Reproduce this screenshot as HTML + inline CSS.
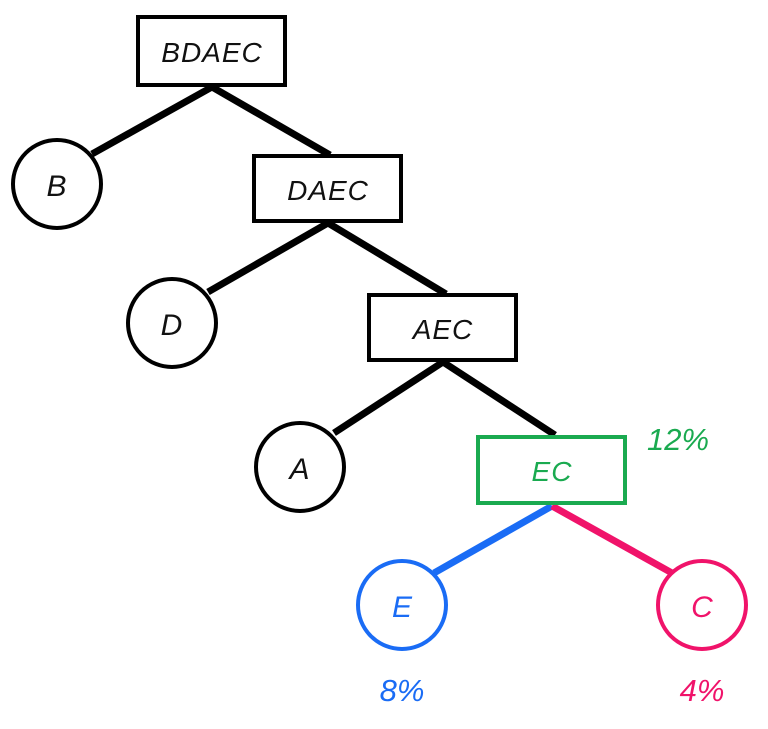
<!DOCTYPE html>
<html><head><style>body{margin:0;background:#fff}</style></head><body>
<svg width="768" height="724" xmlns="http://www.w3.org/2000/svg" font-family="'Liberation Sans', sans-serif" font-style="italic" font-size="28" text-anchor="middle">
<rect width="768" height="724" fill="#fff"/>
<g stroke="#000" stroke-width="7" fill="none">
<line x1="212" y1="87" x2="92" y2="154"/>
<line x1="212" y1="87" x2="330" y2="155"/>
<line x1="328" y1="223" x2="208" y2="292"/>
<line x1="328" y1="223" x2="446" y2="294"/>
<line x1="443" y1="362" x2="334" y2="433"/>
<line x1="443" y1="362" x2="555" y2="435"/>
</g>
<line x1="552" y1="506" x2="434" y2="573" stroke="#1a6cf5" stroke-width="7"/>
<line x1="552" y1="506" x2="672" y2="573" stroke="#f0136a" stroke-width="7"/>
<g stroke="#000" stroke-width="4" fill="#fff">
<rect x="138" y="17" width="147" height="68"/>
<rect x="254" y="156" width="147" height="65"/>
<rect x="369" y="295" width="147" height="65"/>
<circle cx="57" cy="184" r="44"/>
<circle cx="172" cy="323" r="44"/>
<circle cx="300" cy="467" r="44"/>
</g>
<rect x="478" y="437" width="147" height="66" stroke="#1aaa50" stroke-width="4" fill="#fff"/>
<circle cx="402" cy="605" r="44" stroke="#1a6cf5" stroke-width="4" fill="#fff"/>
<circle cx="702" cy="605" r="44" stroke="#f0136a" stroke-width="4" fill="#fff"/>
<g fill="#111" letter-spacing="1">
<text x="212" y="62">BDAEC</text>
<text x="328" y="200">DAEC</text>
<text x="443" y="339">AEC</text>
<text x="57" y="196" font-size="30">B</text>
<text x="172" y="335" font-size="30">D</text>
<text x="300" y="479" font-size="30">A</text>
</g>
<text x="552" y="481" fill="#1aaa50" letter-spacing="1">EC</text>
<text x="678" y="450" fill="#1aaa50" font-size="31">12%</text>
<text x="402" y="617" fill="#1a6cf5" font-size="30">E</text>
<text x="702" y="617" fill="#f0136a" font-size="30">C</text>
<text x="402" y="701" fill="#1a6cf5" font-size="31">8%</text>
<text x="702" y="701" fill="#f0136a" font-size="31">4%</text>
</svg>
</body></html>
